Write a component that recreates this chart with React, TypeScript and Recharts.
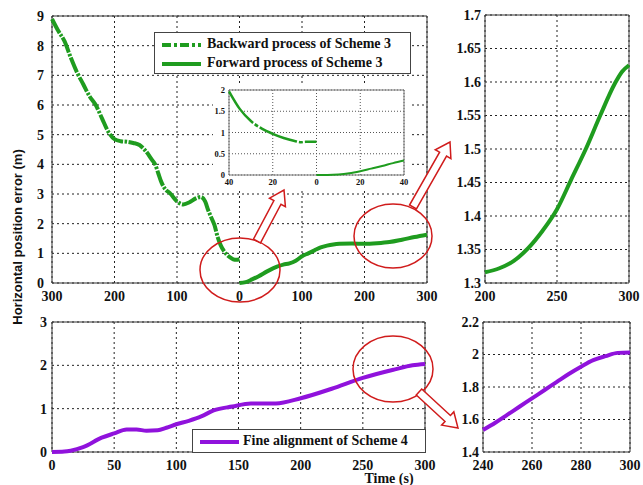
import React from 'react';
import { LineChart, Line, XAxis, YAxis, CartesianGrid, ReferenceArea } from 'recharts';

// Scheme 3, backward process (time counted back from 300 s)
const backwardTime = [300, 290, 280, 270, 260, 250, 240, 230, 220, 210, 200, 190, 180, 170, 160, 150, 140, 135, 130, 125, 120, 110, 100, 90, 80, 70, 62, 55, 50, 45, 40, 35, 30, 25, 20, 15, 10, 5, 0];
const backwardErr = [8.9, 8.5, 8.15, 7.6, 7.1, 6.7, 6.3, 6.0, 5.55, 5.1, 4.85, 4.78, 4.76, 4.72, 4.65, 4.45, 4.15, 4.0, 3.7, 3.4, 3.2, 3.0, 2.75, 2.65, 2.72, 2.85, 2.9, 2.75, 2.45, 2.2, 1.95, 1.55, 1.27, 1.08, 0.95, 0.86, 0.8, 0.78, 0.8];

// Scheme 3, forward process
const forwardTime = [0, 10, 20, 30, 45, 60, 70, 80, 90, 100, 110, 120, 130, 140, 150, 160, 180, 200, 220, 240, 260, 280, 300];
const forwardErr = [0, 0.03, 0.12, 0.22, 0.4, 0.55, 0.62, 0.66, 0.75, 0.9, 1.0, 1.1, 1.2, 1.26, 1.3, 1.32, 1.33, 1.32, 1.34, 1.38, 1.46, 1.55, 1.63];

// inset: first/last 40 s around the turn-around
const insetBackTime = [40, 35, 30, 25, 20, 15, 10, 7, 5, 3, 0];
const insetBackErr = [1.97, 1.55, 1.27, 1.09, 0.97, 0.87, 0.8, 0.77, 0.78, 0.78, 0.78];
const insetFwdTime = [0, 5, 10, 15, 20, 25, 30, 35, 40];
const insetFwdErr = [0, 0, 0.01, 0.04, 0.09, 0.15, 0.21, 0.28, 0.34];

// zoom of forward process 200-300 s
const zoomFwdTime = [200, 210, 220, 230, 240, 250, 260, 270, 280, 290, 295, 300];
const zoomFwdErr = [1.316, 1.322, 1.333, 1.352, 1.378, 1.41, 1.455, 1.5, 1.55, 1.597, 1.615, 1.625];

// Scheme 4 fine alignment
const fineTime = [0, 10, 15, 25, 40, 50, 60, 68, 76, 85, 92, 100, 110, 120, 130, 145, 160, 180, 200, 225, 250, 275, 290, 300];
const fineErr = [0, 0.01, 0.03, 0.11, 0.33, 0.43, 0.52, 0.52, 0.49, 0.5, 0.56, 0.64, 0.72, 0.82, 0.96, 1.05, 1.12, 1.12, 1.24, 1.46, 1.71, 1.9, 2.0, 2.03];

const zoomFineTime = [240, 245, 250, 255, 260, 265, 270, 275, 280, 285, 290, 295, 300];
const zoomFineErr = [1.535, 1.58, 1.63, 1.68, 1.73, 1.78, 1.83, 1.88, 1.925, 1.965, 1.99, 2.01, 2.012];

const mainXTicks = [-300, -200, -100, 0, 100, 200, 300];
const mainYTicks = [0, 1, 2, 3, 4, 5, 6, 7, 8, 9];
const insetXTicks = [-40, -20, 0, 20, 40];
const insetYTicks = [0, 0.5, 1, 1.5, 2];
const zoomFwdXTicks = [200, 250, 300];
const zoomFwdYTicks = [1.3, 1.35, 1.4, 1.45, 1.5, 1.55, 1.6, 1.65, 1.7];
const fineXTicks = [0, 50, 100, 150, 200, 250, 300];
const fineYTicks = [0, 1, 2, 3];
const zoomFineXTicks = [240, 260, 280, 300];
const zoomFineYTicks = [1.4, 1.6, 1.8, 2, 2.2];

const GREEN = '#1f9c1f';
const PURPLE = '#9012dc';
const RED = '#d01c1c';
const DASHDOT = '16 1.5 2.5 1.5';

const serif = '"Liberation Serif", "Times New Roman", serif';
const tick14 = { fontFamily: serif, fontWeight: 700, fontSize: 14, fill: '#111' };
const tick9 = { fontFamily: serif, fontWeight: 700, fontSize: 8.5, fill: '#111' };

const toPts = (t: number[], e: number[], sign = 1) => t.map((v, i) => ({ t: v * sign, e: e[i] }));
const absFmt = (v: number) => String(Math.abs(v));
const numFmt = (v: number) => String(Number(v.toFixed(2)));

// hollow block arrow from (x1,y1) to tip (x2,y2)
function arrowPts(x1: number, y1: number, x2: number, y2: number) {
  const dx = x2 - x1, dy = y2 - y1;
  const len = Math.hypot(dx, dy);
  const ux = dx / len, uy = dy / len;
  const nx = -uy, ny = ux;
  const w = 4, h = 9, L = 14;
  const bx = x2 - ux * L, by = y2 - uy * L;
  const p = [
    [x1 + nx * w, y1 + ny * w],
    [bx + nx * w, by + ny * w],
    [bx + nx * h, by + ny * h],
    [x2, y2],
    [bx - nx * h, by - ny * h],
    [bx - nx * w, by - ny * w],
    [x1 - nx * w, y1 - ny * w],
  ];
  return p.map(q => q.join(',')).join(' ');
}

export default function App() {
  const backwardData = toPts(backwardTime, backwardErr, -1);
  const forwardData = toPts(forwardTime, forwardErr);
  const insetBack = toPts(insetBackTime, insetBackErr, -1);
  const insetFwd = toPts(insetFwdTime, insetFwdErr);
  const zoomFwd = toPts(zoomFwdTime, zoomFwdErr);
  const fine = toPts(fineTime, fineErr);
  const zoomFine = toPts(zoomFineTime, zoomFineErr);

  return (
    <div style={{ position: 'absolute', left: 0, top: 0, width: 643, height: 485, background: '#fff', overflow: 'hidden' }}>
      {/* main: backward (left half, reversed) + forward */}
      <div style={{ position: 'absolute', left: 0, top: 0 }}>
        <LineChart width={447} height={303} margin={{ top: 16, right: 20, left: 12, bottom: 0 }}>
          <CartesianGrid stroke="#222" strokeDasharray="2 3" />
          <XAxis type="number" dataKey="t" domain={[-300, 300]} ticks={mainXTicks} interval={0} tickFormatter={absFmt}
            tick={tick14} tickLine={false} axisLine={false} height={20} allowDuplicatedCategory={false} />
          <YAxis type="number" domain={[0, 9]} ticks={mainYTicks} interval={0} tick={tick14} tickLine={false} axisLine={false} width={40} />
          <ReferenceArea x1={-300} x2={300} y1={0} y2={9} fill="none" stroke="#333" strokeWidth={1} />
          <Line data={backwardData} dataKey="e" type="monotone" stroke={GREEN} strokeWidth={4} strokeDasharray={DASHDOT} dot={false} isAnimationActive={false} />
          <Line data={forwardData} dataKey="e" type="monotone" stroke={GREEN} strokeWidth={4} dot={false} isAnimationActive={false} />
        </LineChart>
      </div>

      {/* legend of main */}
      <div style={{ position: 'absolute', left: 154, top: 32, width: 255, height: 40, border: '1px solid #444', background: '#fff',
        fontFamily: serif, fontWeight: 700, fontSize: 14, color: '#111' }}>
        <svg width={50} height={40} style={{ position: 'absolute', left: 0, top: 0 }}>
          <line x1={7} y1={12} x2={46} y2={12} stroke={GREEN} strokeWidth={4} strokeDasharray="9 3 3 3" />
          <line x1={7} y1={31} x2={46} y2={31} stroke={GREEN} strokeWidth={4} />
        </svg>
        <div style={{ position: 'absolute', left: 52, top: 3, whiteSpace: 'nowrap' }}>Backward process of Scheme 3</div>
        <div style={{ position: 'absolute', left: 52, top: 22, whiteSpace: 'nowrap' }}>Forward process of Scheme 3</div>
      </div>

      {/* inset */}
      <div style={{ position: 'absolute', left: 213, top: 84, background: '#fff' }}>
        <LineChart width={196} height={104} margin={{ top: 6, right: 5, left: 2, bottom: 0 }}>
          <CartesianGrid stroke="#555" strokeDasharray="1 2" />
          <XAxis type="number" dataKey="t" domain={[-40, 40]} ticks={insetXTicks} interval={0} tickFormatter={absFmt}
            tick={tick9} tickLine={false} axisLine={false} height={13} tickSize={2} allowDuplicatedCategory={false} />
          <YAxis type="number" domain={[0, 2]} ticks={insetYTicks} interval={0} tick={tick9} tickLine={false} axisLine={false} width={14} tickSize={2} />
          <ReferenceArea x1={-40} x2={40} y1={0} y2={2} fill="none" stroke="#777" strokeWidth={1} />
          <Line data={insetBack} dataKey="e" type="monotone" stroke={GREEN} strokeWidth={2.5} strokeDasharray="40 2 4 2" dot={false} isAnimationActive={false} />
          <Line data={insetFwd} dataKey="e" type="monotone" stroke={GREEN} strokeWidth={2} dot={false} isAnimationActive={false} />
        </LineChart>
      </div>

      {/* top right zoom */}
      <div style={{ position: 'absolute', left: 440, top: 0 }}>
        <LineChart width={203} height={303} margin={{ top: 15, right: 14, left: 0, bottom: 0 }}>
          <CartesianGrid stroke="#222" strokeDasharray="2 3" />
          <XAxis type="number" dataKey="t" domain={[200, 300]} ticks={zoomFwdXTicks} interval={0}
            tick={tick14} tickLine={false} axisLine={false} height={20} allowDuplicatedCategory={false} />
          <YAxis type="number" domain={[1.3, 1.7]} ticks={zoomFwdYTicks} interval={0} tickFormatter={numFmt}
            tick={tick14} tickLine={false} axisLine={false} width={45} tickSize={2} />
          <ReferenceArea x1={200} x2={300} y1={1.3} y2={1.7} fill="none" stroke="#333" strokeWidth={1} />
          <Line data={zoomFwd} dataKey="e" type="monotone" stroke={GREEN} strokeWidth={4} dot={false} isAnimationActive={false} />
        </LineChart>
      </div>

      {/* bottom left: Scheme 4 */}
      <div style={{ position: 'absolute', left: 0, top: 305 }}>
        <LineChart width={445} height={167} margin={{ top: 17, right: 20, left: 12, bottom: 0 }}>
          <CartesianGrid stroke="#222" strokeDasharray="2 3" />
          <XAxis type="number" dataKey="t" domain={[0, 300]} ticks={fineXTicks} interval={0}
            tick={tick14} tickLine={false} axisLine={false} height={20} allowDuplicatedCategory={false} />
          <YAxis type="number" domain={[0, 3]} ticks={fineYTicks} interval={0} tick={tick14} tickLine={false} axisLine={false} width={40} tickSize={3} />
          <ReferenceArea x1={0} x2={300} y1={0} y2={3} fill="none" stroke="#333" strokeWidth={1} />
          <Line data={fine} dataKey="e" type="monotone" stroke={PURPLE} strokeWidth={4} dot={false} isAnimationActive={false} />
        </LineChart>
      </div>

      {/* legend of Scheme 4 */}
      <div style={{ position: 'absolute', left: 192, top: 429, width: 232, height: 22, border: '1px solid #444', background: '#fff',
        fontFamily: serif, fontWeight: 700, fontSize: 14, color: '#111' }}>
        <svg width={50} height={22} style={{ position: 'absolute', left: 0, top: 0 }}>
          <line x1={7} y1={12} x2={46} y2={12} stroke={PURPLE} strokeWidth={4} />
        </svg>
        <div style={{ position: 'absolute', left: 50, top: 3, whiteSpace: 'nowrap' }}>Fine alignment of Scheme 4</div>
      </div>

      {/* bottom right zoom */}
      <div style={{ position: 'absolute', left: 440, top: 305 }}>
        <LineChart width={203} height={167} margin={{ top: 17, right: 13, left: 0, bottom: 0 }}>
          <CartesianGrid stroke="#222" strokeDasharray="2 3" />
          <XAxis type="number" dataKey="t" domain={[240, 300]} ticks={zoomFineXTicks} interval={0}
            tick={tick14} tickLine={false} axisLine={false} height={20} allowDuplicatedCategory={false} />
          <YAxis type="number" domain={[1.4, 2.2]} ticks={zoomFineYTicks} interval={0} tickFormatter={numFmt}
            tick={tick14} tickLine={false} axisLine={false} width={43} tickSize={2} />
          <ReferenceArea x1={240} x2={300} y1={1.4} y2={2.2} fill="none" stroke="#333" strokeWidth={1} />
          <Line data={zoomFine} dataKey="e" type="monotone" stroke={PURPLE} strokeWidth={4} dot={false} isAnimationActive={false} />
        </LineChart>
      </div>

      {/* annotations */}
      <svg width={643} height={485} style={{ position: 'absolute', left: 0, top: 0, pointerEvents: 'none' }}>
        <text x={19} y={237} transform="rotate(-90 19 237)" textAnchor="middle" dominantBaseline="middle"
          fontFamily='"Liberation Sans", Arial, sans-serif' fontWeight={700} fontSize={13} fill="#111">
          Horizontal position error (m)
        </text>
        <text x={389} y={483} textAnchor="middle" fontFamily={serif} fontWeight={700} fontSize={14} fill="#111">Time (s)</text>
        <ellipse cx={240} cy={270} rx={40} ry={32} fill="none" stroke={RED} strokeWidth={1.5} />
        <ellipse cx={393} cy={236} rx={39} ry={32} fill="none" stroke={RED} strokeWidth={1.5} />
        <ellipse cx={393} cy={369} rx={40} ry={33} fill="none" stroke={RED} strokeWidth={1.5} />
        <polygon points={arrowPts(257, 241, 284, 190)} fill="#fff" stroke={RED} strokeWidth={1.5} />
        <polygon points={arrowPts(413, 207, 450, 142)} fill="#fff" stroke={RED} strokeWidth={1.5} />
        <polygon points={arrowPts(419, 392, 458, 428)} fill="#fff" stroke={RED} strokeWidth={1.5} />
      </svg>
    </div>
  );
}
